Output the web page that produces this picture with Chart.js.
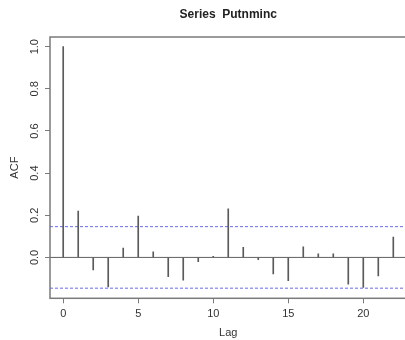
<!DOCTYPE html>
<html>
<head>
<meta charset="utf-8">
<script src="https://cdn.jsdelivr.net/npm/chart.js@4"></script>
<style>
  html, body { margin:0; padding:0; background:#fff; overflow:hidden; }
  #wrap { width:410px; height:340px; }
</style>
</head>
<body>
<div id="wrap"><canvas id="acf" width="410" height="340"></canvas></div>
<script>
/* ACF of Putnminc, lags 0..22 */
const lags = [0,1,2,3,4,5,6,7,8,9,10,11,12,13,14,15,16,17,18,19,20,21,22];
const acfValues = [1.0,0.22,-0.059,-0.14,0.044,0.196,0.027,-0.091,-0.108,-0.02,0.005,0.23,
                   0.048,-0.011,-0.078,-0.11,0.05,0.017,0.017,-0.127,-0.142,-0.088,0.096];
const ciBound = 0.146;
const xTicks = [0,5,10,15,20];
const yTicks = [0,0.2,0.4,0.6,0.8,1.0];
const xRange = [-0.88, 22.88];
const yRange = [-0.194, 1.046];

const FONT = "'Liberation Sans', Arial, sans-serif";
const TXT = '#333';
const AXIS = '#7a7a7a';

/* R-style box, rotated y labels and titles */
const rDecor = {
  id: 'rDecor',
  afterDraw(chart){
    const {ctx, chartArea: a, scales} = chart;
    ctx.save();
    ctx.strokeStyle = AXIS;
    ctx.lineWidth = 1.5;
    ctx.strokeRect(a.left, a.top, a.right - a.left, a.bottom - a.top);

    ctx.fillStyle = TXT;
    ctx.textAlign = 'center';
    ctx.textBaseline = 'middle';
    ctx.font = '11px ' + FONT;
    yTicks.forEach(v => {
      const y = scales.y.getPixelForValue(v);
      ctx.save();
      ctx.translate(35, y);
      ctx.rotate(-Math.PI/2);
      ctx.fillText(v.toFixed(1), 0, 0);
      ctx.restore();
    });
    ctx.save();
    ctx.translate(15, (a.top + a.bottom)/2);
    ctx.rotate(-Math.PI/2);
    ctx.fillText('ACF', 0, 0);
    ctx.restore();
    ctx.fillText('Lag', (a.left + a.right)/2, 333);

    ctx.font = 'bold 12px ' + FONT;
    ctx.fillStyle = '#222';
    ctx.fillText('Series  Putnminc', (a.left + a.right)/2, 15);
    ctx.restore();
  }
};

const spanLine = (y, color, dash) => ({
  type: 'line',
  data: [{x: xRange[0], y}, {x: xRange[1], y}],
  borderColor: color,
  borderWidth: 1,
  borderDash: dash,
  pointRadius: 0,
  fill: false,
});

new Chart(document.getElementById('acf'), {
  type: 'bar',
  data: {
    datasets: [
      {
        type: 'bar',
        data: lags.map((l,i) => ({x: l, y: acfValues[i]})),
        backgroundColor: '#5a5a5a',
        barThickness: 1,
        borderWidth: 0,
      },
      spanLine(0, '#606060', []),
      spanLine(ciBound, '#6a6af0', [3,2]),
      spanLine(-ciBound, '#6a6af0', [3,2]),
    ],
  },
  options: {
    responsive: false,
    animation: false,
    layout: { padding: { top: 37, right: 3.5, left: 0, bottom: 0 } },
    plugins: { legend: { display:false }, tooltip: { enabled:false }, title: { display:false } },
    scales: {
      x: {
        type: 'linear',
        offset: false,
        min: xRange[0], max: xRange[1],
        afterBuildTicks: s => { s.ticks = xTicks.map(v => ({value: v})); },
        afterFit: s => { s.height = 41.7; },
        border: { display: false },
        grid: { offset: false, drawOnChartArea: false, drawTicks: true, tickLength: 5, color: AXIS, lineWidth: 1 },
        ticks: { color: TXT, font: { family: FONT, size: 11 }, padding: 4, maxRotation: 0,
                 callback: v => String(v) },
      },
      y: {
        type: 'linear',
        min: yRange[0], max: yRange[1],
        afterBuildTicks: s => { s.ticks = yTicks.map(v => ({value: v})); },
        afterFit: s => { s.width = 50; },
        border: { display: false },
        grid: { offset: false, drawOnChartArea: false, drawTicks: true, tickLength: 5, color: AXIS, lineWidth: 1 },
        ticks: { display: true, color: 'rgba(0,0,0,0)', font: { family: FONT, size: 11 } },
      },
    },
  },
  plugins: [rDecor],
});
</script>
</body>
</html>
